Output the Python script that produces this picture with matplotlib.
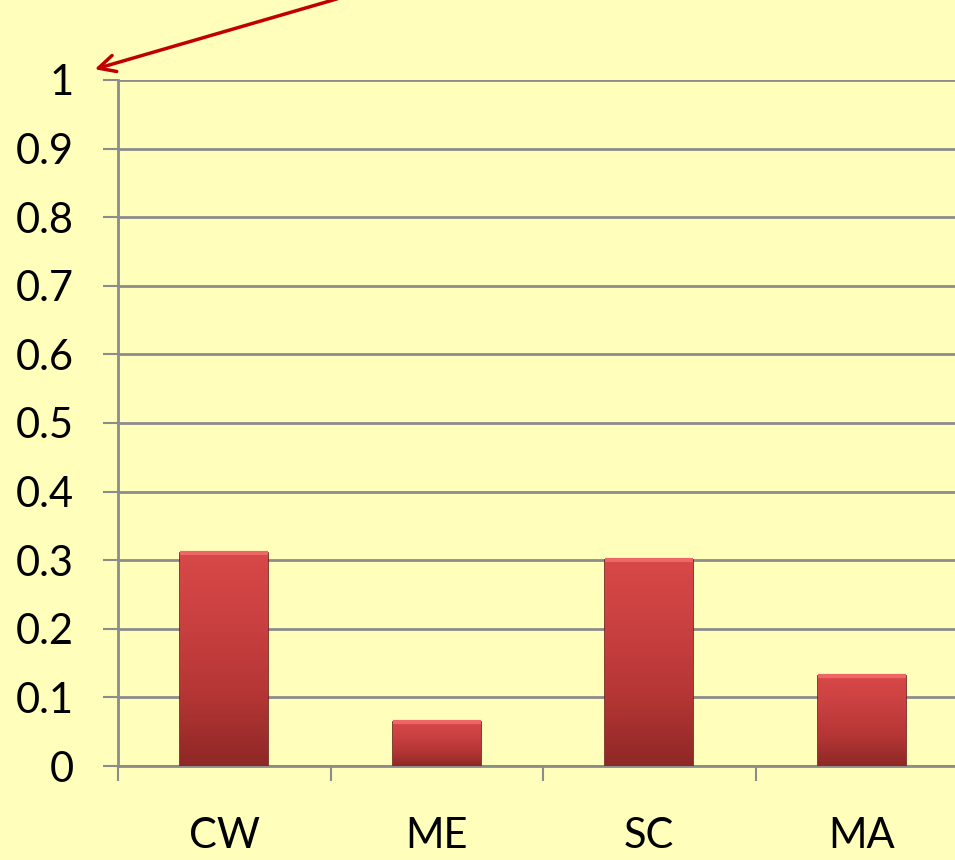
import numpy as np
import matplotlib.pyplot as plt
from matplotlib.colors import LinearSegmentedColormap

# Datos
categorias = ["CW", "ME", "SC", "MA"]
valores = [0.31, 0.064, 0.30, 0.131]
yticks = [0, 0.1, 0.2, 0.3, 0.4, 0.5, 0.6, 0.7, 0.8, 0.9, 1]
ytick_labels = ["0", "0.1", "0.2", "0.3", "0.4", "0.5", "0.6", "0.7", "0.8", "0.9", "1"]

fondo = "#FFFFBB"
gris = "#8C8C8C"

plt.rcParams["font.family"] = ["Lato", "DejaVu Sans"]

fig = plt.figure(figsize=(9.55, 8.6), dpi=100, facecolor=fondo)
ax = fig.add_axes([0.1236, 0.1093, 0.890, 0.7977], facecolor=fondo)

x = np.arange(len(categorias))
ancho = 0.414

# Barras con degradado
cmap = LinearSegmentedColormap.from_list("rojo", ["#8E2826", "#B43634", "#C94040", "#D84848"])
grad = np.linspace(0, 1, 256).reshape(-1, 1)
barras = ax.bar(x, valores, width=ancho, color="#C63D3C", edgecolor="#6E1B1B",
                linewidth=1.2, zorder=3)
for b, xi, v in zip(barras, x, valores):
    im = ax.imshow(grad, cmap=cmap, origin="lower", aspect="auto",
                   extent=(xi - ancho / 2, xi + ancho / 2, 0, v), zorder=3.5)
    im.set_clip_path(b)
    # borde superior claro
    ax.plot([xi - ancho / 2, xi + ancho / 2], [v, v], color="#EE6666",
            linewidth=3, zorder=4, solid_capstyle="butt")

ax.set_xlim(-0.5, len(categorias) - 0.5)
ax.set_ylim(0, 1)

ax.set_yticks(yticks)
ax.set_yticklabels(ytick_labels)
ax.set_xticks(x)
ax.set_xticklabels(categorias)
ax.set_xticks(np.arange(len(categorias) + 1) - 0.5, minor=True)

ax.grid(axis="y", color=gris, linewidth=2, zorder=1)
ax.tick_params(axis="y", length=11, width=1.5, color=gris, labelsize=30, pad=21)
ax.tick_params(axis="x", which="major", length=0, labelsize=30, pad=37)
ax.tick_params(axis="x", which="minor", length=11, width=1.5, color=gris)

for lado in ["top", "right"]:
    ax.spines[lado].set_visible(False)
for lado in ["left", "bottom"]:
    ax.spines[lado].set_color(gris)
    ax.spines[lado].set_linewidth(2)

# Flecha
ax.annotate("", xy=(92, 790), xycoords="figure pixels",
            xytext=(340, 862), textcoords="figure pixels",
            arrowprops=dict(arrowstyle="->", color="#C00000", lw=2.5,
                            mutation_scale=30))

plt.savefig("out.png", dpi=100, facecolor=fondo)
plt.close()
